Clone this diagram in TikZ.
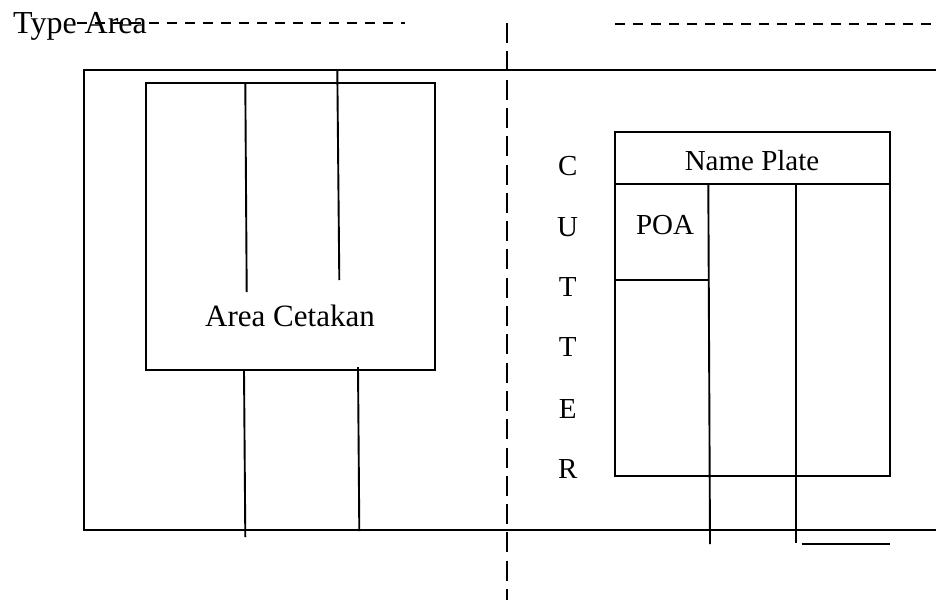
\documentclass[tikz,border=0pt]{standalone}
\usepackage{fontspec}
\setmainfont{Liberation Serif}
\begin{document}
\begin{tikzpicture}[x=1pt,y=-1pt,
  solid line/.style={line width=1.9pt,black},
  cut line/.style={line width=2.4pt,black,dash pattern=on 10pt off 8pt},
  vcut line/.style={line width=2.2pt,black,dash pattern=on 20pt off 8.3pt},
  big text/.style={inner sep=0pt,anchor=base,font=\fontsize{31}{36}\selectfont},
  small text/.style={inner sep=0pt,anchor=base,font=\fontsize{29}{34}\selectfont}]
\useasboundingbox (0,0) rectangle (936,600);
% Type area label and guide lines
\node[inner sep=0pt,anchor=base west,font=\fontsize{32}{36}\selectfont] (typearea) at (13,33) {Type Area};
\coordinate (tl1) at (77,23); \coordinate (tl2) at (405,23);
\coordinate (tr1) at (615,24); \coordinate (tr2) at (936,24);
\coordinate (vc1) at (507,23); \coordinate (vc2) at (507,600);
\draw[cut line] (tl1) -- (tl2);
\draw[cut line] (tr1) -- (tr2);
\draw[vcut line] (vc1) -- (vc2);
% outer sheet (open to the right)
\draw[solid line] (936,70) -- (84,70) -- (84,530) -- (936,530);
% Area Cetakan box
\draw[solid line] (146,83) rectangle (435,370);
\node[big text] (cetakan) at (290,326) {Area Cetakan};
\draw[solid line] (245.3,83) -- (246.7,292);
\draw[solid line] (337.3,70) -- (339.3,280);
\draw[solid line] (244,370) -- (245.3,537);
\draw[solid line] (358,367) -- (359.3,531);
% CUTTER letters
\foreach \ch/\yy [count=\i] in {C/175,U/236,T/296.7,T/356.7,E/418.3,R/478.3}
  \node[small text] (cut\i) at (567.7,\yy) {\ch};
% Name plate box
\draw[solid line] (615,131.7) rectangle (890,476);
\draw[solid line] (615,184.3) -- (890,184.3);
\node[small text] (nameplate) at (752,170) {Name Plate};
\node[small text] (poa) at (665,234) {POA};
\draw[solid line] (615,280) -- (708.5,280);
\draw[solid line] (708.3,184.3) -- (710,544);
\draw[solid line] (796,184.3) -- (796,543);
\draw[solid line] (801.7,544.3) -- (890,544.3);
\end{tikzpicture}
\end{document}
